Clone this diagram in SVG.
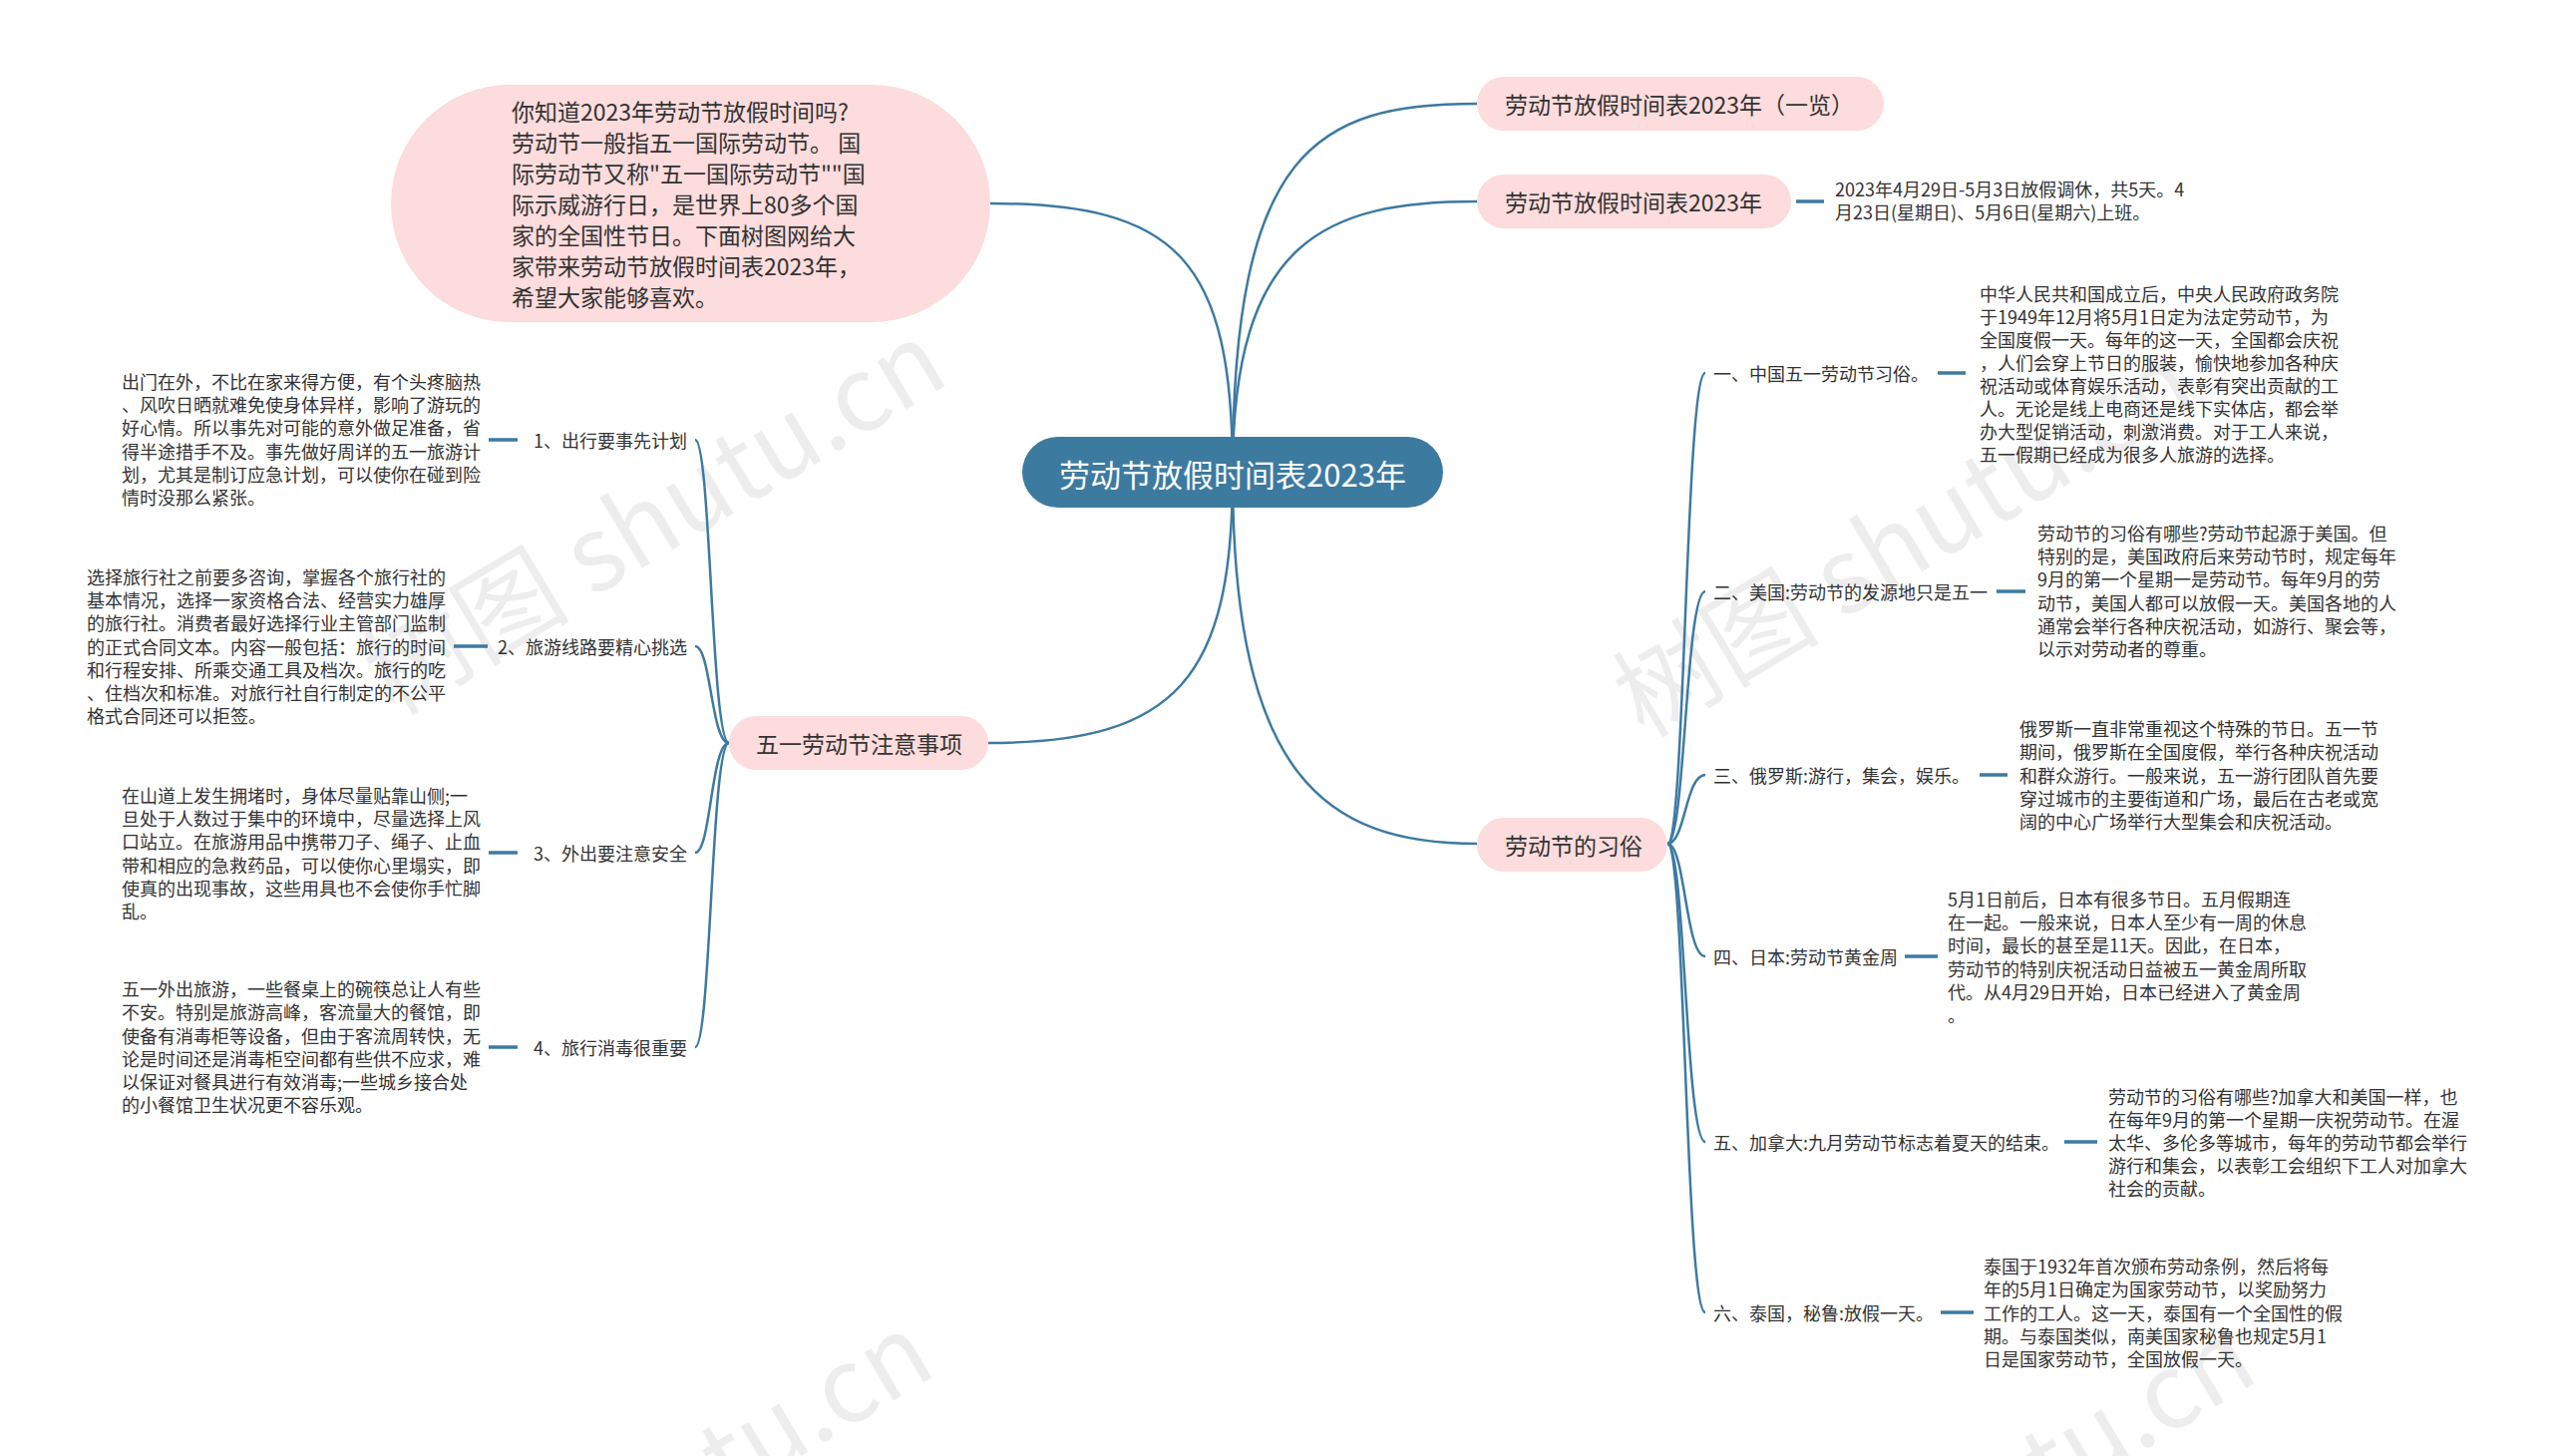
<svg xmlns="http://www.w3.org/2000/svg" width="2560" height="1460" viewBox="0 0 2560 1460">
<style>
text{font-family:"Noto Sans CJK SC","Noto Sans",sans-serif;fill:#333;dominant-baseline:central}
.n{font-size:23px}
.d{font-size:18px}
.l{font-size:18px}
.c{font-size:31px;fill:#fff}
.pk{fill:#fcdcdc}
.ln{fill:none;stroke:#3d7aa0;stroke-width:2.5}
.sh{fill:none;stroke:#3d7aa0;stroke-width:3.5}
.wm{font-family:"Noto Sans CJK SC","Liberation Serif",serif;font-size:104px;fill:#000;fill-opacity:0.07}
</style>
<rect width="2560" height="1460" fill="#fff"/>

<g id="watermarks">
<text class="wm" transform="translate(372,680) rotate(-31)">树图 shutu.cn</text>
<text class="wm" transform="translate(1625,702) rotate(-31)">树图 shutu.cn</text>
<text class="wm" transform="translate(359,1674) rotate(-31)">树图 shutu.cn</text>
<text class="wm" transform="translate(1685,1680) rotate(-31)">树图 shutu.cn</text>
</g>

<g id="connectors">
<path class="ln" d="M993 204 C1180 204 1236 260 1236 474"/>
<path class="ln" d="M991 745 C1180 745 1236 680 1236 474"/>
<path class="ln" d="M1236 474 C1236 150 1320 104 1481 104"/>
<path class="ln" d="M1236 474 C1236 240 1330 202 1481 202"/>
<path class="ln" d="M1236 474 C1236 780 1330 846 1481 846"/>
<path class="ln" d="M731 745 C713 745 713 441 697 441"/>
<path class="ln" d="M731 745 C713 745 713 648 697 648"/>
<path class="ln" d="M731 745 C713 745 713 855 697 855"/>
<path class="ln" d="M731 745 C713 745 713 1050 697 1050"/>
<path class="ln" d="M1672 846 C1690 846 1690 374 1710 374"/>
<path class="ln" d="M1672 846 C1690 846 1690 593 1710 593"/>
<path class="ln" d="M1672 846 C1690 846 1690 777 1710 777"/>
<path class="ln" d="M1672 846 C1690 846 1690 959 1710 959"/>
<path class="ln" d="M1672 846 C1690 846 1690 1145 1710 1145"/>
<path class="ln" d="M1672 846 C1690 846 1690 1316 1710 1316"/>
<path class="sh" d="M1801 202 H1829"/>
<path class="sh" d="M490 441 H519"/>
<path class="sh" d="M455 648 H489"/>
<path class="sh" d="M490 855 H519"/>
<path class="sh" d="M490 1050 H519"/>
<path class="sh" d="M1943 374 H1971"/>
<path class="sh" d="M2002 593 H2031"/>
<path class="sh" d="M1985 777 H2013"/>
<path class="sh" d="M1910 959 H1943"/>
<path class="sh" d="M2070 1145 H2103"/>
<path class="sh" d="M1946 1316 H1979"/>
</g>

<g id="center">
<rect x="1025" y="438" width="422" height="71" rx="35.5" fill="#3d7aa0"/>
<text class="c" x="1236" y="474" text-anchor="middle">劳动节放假时间表2023年</text>
</g>

<g id="intro">
<rect class="pk" x="392" y="85" width="601" height="238" rx="119"/>
<text class="n" x="513" y="111">你知道2023年劳动节放假时间吗?</text>
<text class="n" x="513" y="142">劳动节一般指五一国际劳动节。 国</text>
<text class="n" x="513" y="173">际劳动节又称"五一国际劳动节""国</text>
<text class="n" x="513" y="204">际示威游行日，是世界上80多个国</text>
<text class="n" x="513" y="235">家的全国性节日。下面树图网给大</text>
<text class="n" x="513" y="266">家带来劳动节放假时间表2023年，</text>
<text class="n" x="513" y="297">希望大家能够喜欢。</text>
</g>

<g id="node-list">
<rect class="pk" x="1481" y="77" width="408" height="54" rx="27"/>
<text class="n" x="1509" y="104">劳动节放假时间表2023年（一览）</text>
</g>

<g id="node-schedule">
<rect class="pk" x="1481" y="175" width="315" height="54" rx="27"/>
<text class="n" x="1509" y="202">劳动节放假时间表2023年</text>
</g>
<g id="detail-schedule">
<text class="d" x="1840" y="189">2023年4月29日-5月3日放假调休，共5天。4</text>
<text class="d" x="1840" y="212">月23日(星期日)、5月6日(星期六)上班。</text>
</g>

<g id="node-notes">
<rect class="pk" x="731" y="718" width="260" height="54" rx="27"/>
<text class="n" x="758" y="745">五一劳动节注意事项</text>
</g>

<g id="note-1">
<text class="l" x="689" y="441" text-anchor="end">1、出行要事先计划</text>
<text class="d" x="122" y="382">出门在外，不比在家来得方便，有个头疼脑热</text>
<text class="d" x="122" y="405">、风吹日晒就难免使身体异样，影响了游玩的</text>
<text class="d" x="122" y="428">好心情。所以事先对可能的意外做足准备，省</text>
<text class="d" x="122" y="452">得半途措手不及。事先做好周详的五一旅游计</text>
<text class="d" x="122" y="475">划，尤其是制订应急计划，可以使你在碰到险</text>
<text class="d" x="122" y="498">情时没那么紧张。</text>
</g>

<g id="note-2">
<text class="l" x="689" y="648" text-anchor="end">2、旅游线路要精心挑选</text>
<text class="d" x="87" y="578">选择旅行社之前要多咨询，掌握各个旅行社的</text>
<text class="d" x="87" y="601">基本情况，选择一家资格合法、经营实力雄厚</text>
<text class="d" x="87" y="624">的旅行社。消费者最好选择行业主管部门监制</text>
<text class="d" x="87" y="648">的正式合同文本。内容一般包括：旅行的时间</text>
<text class="d" x="87" y="671">和行程安排、所乘交通工具及档次。旅行的吃</text>
<text class="d" x="87" y="694">、住档次和标准。对旅行社自行制定的不公平</text>
<text class="d" x="87" y="717">格式合同还可以拒签。</text>
</g>

<g id="note-3">
<text class="l" x="689" y="855" text-anchor="end">3、外出要注意安全</text>
<text class="d" x="122" y="797">在山道上发生拥堵时，身体尽量贴靠山侧;一</text>
<text class="d" x="122" y="820">旦处于人数过于集中的环境中，尽量选择上风</text>
<text class="d" x="122" y="843">口站立。在旅游用品中携带刀子、绳子、止血</text>
<text class="d" x="122" y="867">带和相应的急救药品，可以使你心里塌实，即</text>
<text class="d" x="122" y="890">使真的出现事故，这些用具也不会使你手忙脚</text>
<text class="d" x="122" y="913">乱。</text>
</g>

<g id="note-4">
<text class="l" x="689" y="1050" text-anchor="end">4、旅行消毒很重要</text>
<text class="d" x="122" y="991">五一外出旅游，一些餐桌上的碗筷总让人有些</text>
<text class="d" x="122" y="1014">不安。特别是旅游高峰，客流量大的餐馆，即</text>
<text class="d" x="122" y="1038">使备有消毒柜等设备，但由于客流周转快，无</text>
<text class="d" x="122" y="1061">论是时间还是消毒柜空间都有些供不应求，难</text>
<text class="d" x="122" y="1084">以保证对餐具进行有效消毒;一些城乡接合处</text>
<text class="d" x="122" y="1107">的小餐馆卫生状况更不容乐观。</text>
</g>

<g id="node-customs">
<rect class="pk" x="1481" y="820" width="191" height="54" rx="27"/>
<text class="n" x="1509" y="847">劳动节的习俗</text>
</g>

<g id="custom-1">
<text class="l" x="1718" y="374">一、中国五一劳动节习俗。</text>
<text class="d" x="1985" y="294">中华人民共和国成立后，中央人民政府政务院</text>
<text class="d" x="1985" y="317">于1949年12月将5月1日定为法定劳动节，为</text>
<text class="d" x="1985" y="340">全国度假一天。每年的这一天，全国都会庆祝</text>
<text class="d" x="1985" y="363">，人们会穿上节日的服装，愉快地参加各种庆</text>
<text class="d" x="1985" y="386">祝活动或体育娱乐活动，表彰有突出贡献的工</text>
<text class="d" x="1985" y="409">人。无论是线上电商还是线下实体店，都会举</text>
<text class="d" x="1985" y="432">办大型促销活动，刺激消费。对于工人来说，</text>
<text class="d" x="1985" y="455">五一假期已经成为很多人旅游的选择。</text>
</g>

<g id="custom-2">
<text class="l" x="1718" y="593">二、美国:劳动节的发源地只是五一</text>
<text class="d" x="2043" y="534">劳动节的习俗有哪些?劳动节起源于美国。但</text>
<text class="d" x="2043" y="557">特别的是，美国政府后来劳动节时，规定每年</text>
<text class="d" x="2043" y="580">9月的第一个星期一是劳动节。每年9月的劳</text>
<text class="d" x="2043" y="604">动节，美国人都可以放假一天。美国各地的人</text>
<text class="d" x="2043" y="627">通常会举行各种庆祝活动，如游行、聚会等，</text>
<text class="d" x="2043" y="650">以示对劳动者的尊重。</text>
</g>

<g id="custom-3">
<text class="l" x="1718" y="777">三、俄罗斯:游行，集会，娱乐。</text>
<text class="d" x="2025" y="730">俄罗斯一直非常重视这个特殊的节日。五一节</text>
<text class="d" x="2025" y="753">期间，俄罗斯在全国度假，举行各种庆祝活动</text>
<text class="d" x="2025" y="777">和群众游行。一般来说，五一游行团队首先要</text>
<text class="d" x="2025" y="800">穿过城市的主要街道和广场，最后在古老或宽</text>
<text class="d" x="2025" y="823">阔的中心广场举行大型集会和庆祝活动。</text>
</g>

<g id="custom-4">
<text class="l" x="1718" y="959">四、日本:劳动节黄金周</text>
<text class="d" x="1953" y="901">5月1日前后，日本有很多节日。五月假期连</text>
<text class="d" x="1953" y="924">在一起。一般来说，日本人至少有一周的休息</text>
<text class="d" x="1953" y="947">时间，最长的甚至是11天。因此，在日本，</text>
<text class="d" x="1953" y="971">劳动节的特别庆祝活动日益被五一黄金周所取</text>
<text class="d" x="1953" y="994">代。从4月29日开始，日本已经进入了黄金周</text>
<text class="d" x="1953" y="1017">。</text>
</g>

<g id="custom-5">
<text class="l" x="1718" y="1145">五、加拿大:九月劳动节标志着夏天的结束。</text>
<text class="d" x="2114" y="1099">劳动节的习俗有哪些?加拿大和美国一样，也</text>
<text class="d" x="2114" y="1122">在每年9月的第一个星期一庆祝劳动节。在渥</text>
<text class="d" x="2114" y="1145">太华、多伦多等城市，每年的劳动节都会举行</text>
<text class="d" x="2114" y="1168">游行和集会，以表彰工会组织下工人对加拿大</text>
<text class="d" x="2114" y="1191">社会的贡献。</text>
</g>

<g id="custom-6">
<text class="l" x="1718" y="1316">六、泰国，秘鲁:放假一天。</text>
<text class="d" x="1989" y="1269">泰国于1932年首次颁布劳动条例，然后将每</text>
<text class="d" x="1989" y="1292">年的5月1日确定为国家劳动节，以奖励努力</text>
<text class="d" x="1989" y="1316">工作的工人。这一天，泰国有一个全国性的假</text>
<text class="d" x="1989" y="1339">期。与泰国类似，南美国家秘鲁也规定5月1</text>
<text class="d" x="1989" y="1362">日是国家劳动节，全国放假一天。</text>
</g>
</svg>
